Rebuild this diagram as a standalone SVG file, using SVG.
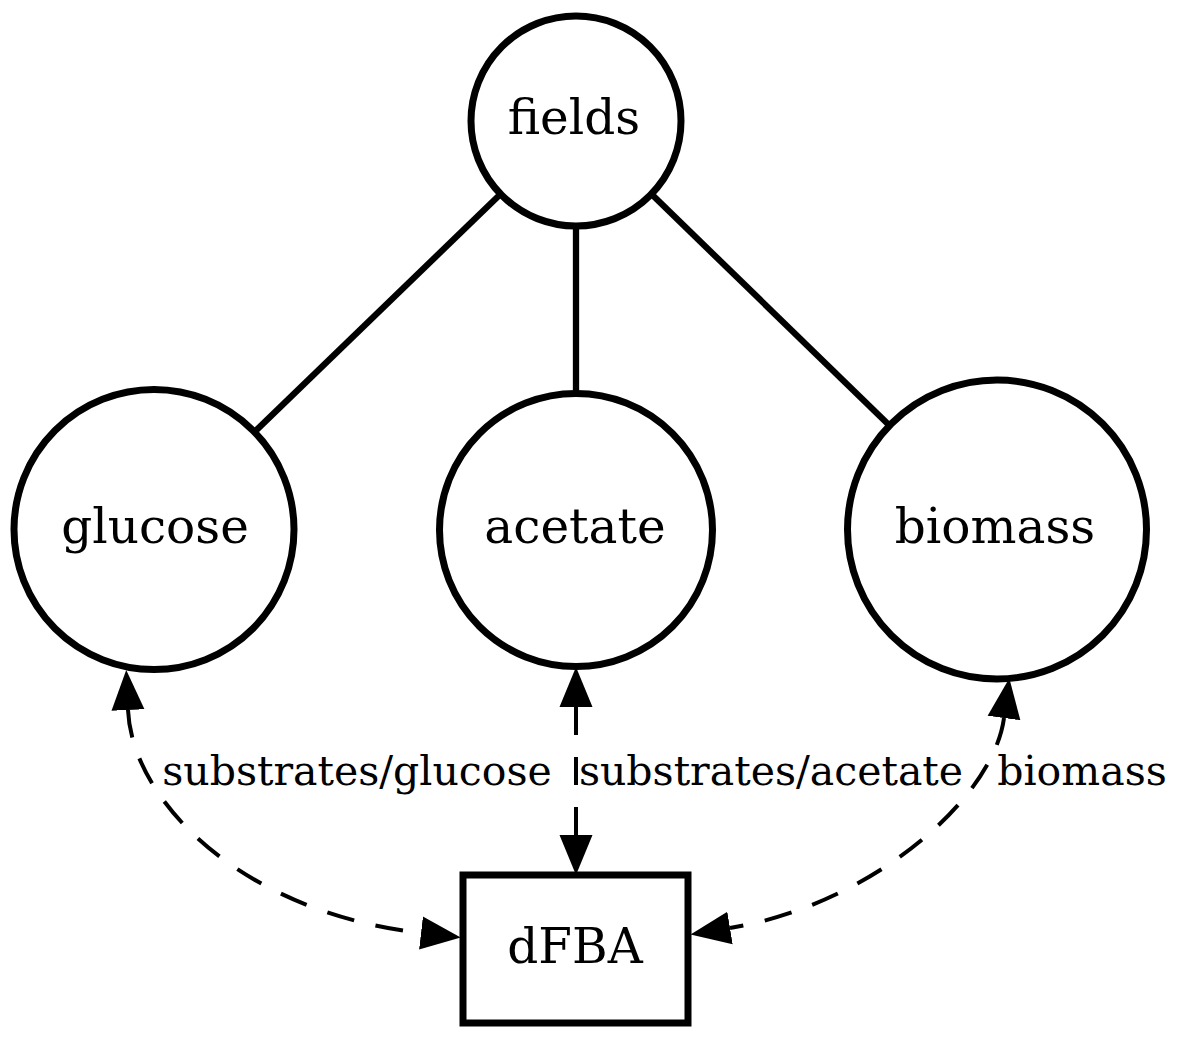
<svg xmlns="http://www.w3.org/2000/svg" width="1193" height="1041" viewBox="0 0 1193 1041">
<style>
.node circle, .node rect { fill: #fff; stroke: #000; stroke-width: 7; }
.node text { font-family: "DejaVu Serif", "Liberation Serif", serif; font-size: 48.5px; text-anchor: middle; fill: #000; }
.solid { stroke: #000; stroke-width: 6.3; fill: none; }
.dashed { stroke: #000; stroke-width: 4; fill: none; stroke-dasharray: 28 22; }
.elabel { font-family: "DejaVu Serif", "Liberation Serif", serif; font-size: 41px; text-anchor: middle; fill: #000; }
</style>
<defs>
<marker id="ah" markerUnits="userSpaceOnUse" viewBox="0 -17 41 34" refX="0" refY="0" markerWidth="41" markerHeight="34" orient="auto-start-reverse">
<path d="M0,-16.5 L40,0 L0,16.5 Z" fill="#000"/>
</marker>
</defs>
<rect width="1193" height="1041" fill="#fff"/>
<g id="node-fields" class="node"><circle cx="576" cy="121" r="105"/><text x="574" y="134">fields</text></g>
<g id="node-glucose" class="node"><circle cx="154" cy="529.5" r="140"/><text x="155" y="543">glucose</text></g>
<g id="node-acetate" class="node"><circle cx="576" cy="530" r="136.5"/><text x="575" y="543">acetate</text></g>
<g id="node-biomass" class="node"><circle cx="997" cy="529.5" r="149.5"/><text x="995" y="543">biomass</text></g>
<g id="node-dFBA" class="node"><rect x="463" y="875" width="225" height="148"/><text x="575" y="963">dFBA</text></g>
<g id="connectors">
<line class="solid" x1="500.6" y1="194" x2="254.5" y2="432"/>
<line class="solid" x1="576" y1="226" x2="576" y2="393.5"/>
<line class="solid" x1="651.4" y1="194" x2="889.5" y2="425.5"/>
<path class="dashed" d="M128,710 C132,800 240,912 421,933" marker-start="url(#ah)" marker-end="url(#ah)"/>
<path class="dashed" d="M576,707 L576,835" marker-start="url(#ah)" marker-end="url(#ah)"/>
<path class="dashed" d="M1004,718 C993,800 870,905 730,928" marker-start="url(#ah)" marker-end="url(#ah)"/>
<text class="elabel" x="357" y="785">substrates/glucose</text>
<text class="elabel" x="771" y="785">substrates/acetate</text>
<text class="elabel" x="1082" y="785">biomass</text>
</g>
</svg>
